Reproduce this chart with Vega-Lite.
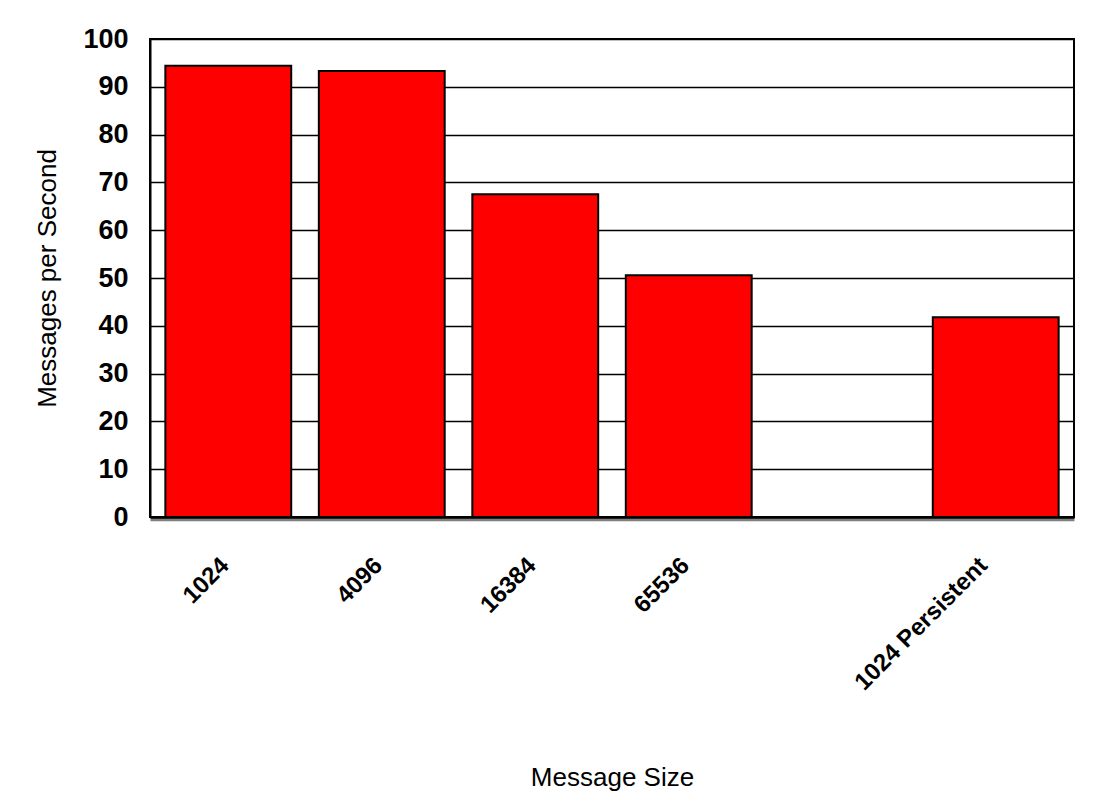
{
  "$schema": "https://vega.github.io/schema/vega-lite/v6.json",
  "autosize": {"type": "none"},
  "padding": {"left": 150, "top": 39, "right": 30, "bottom": 290},
  "width": 924,
  "height": 478,
  "background": "white",
  "data": {
    "values": [
      {"size": "1024", "rate": 94.4},
      {"size": "4096", "rate": 93.3},
      {"size": "16384", "rate": 67.5},
      {"size": "65536", "rate": 50.6},
      {"size": " ", "rate": 0},
      {"size": "1024 Persistent", "rate": 41.8}
    ]
  },
  "mark": {"type": "bar", "fill": "#FF0000", "stroke": "black", "strokeWidth": 2},
  "encoding": {
    "x": {
      "field": "size",
      "type": "nominal",
      "sort": null,
      "scale": {"paddingInner": 0.18, "paddingOuter": 0.1},
      "axis": {
        "title": "Message Size",
        "titleFont": "Liberation Sans",
        "titleFontSize": 26,
        "titleFontWeight": "normal",
        "titleColor": "black",
        "titleBaseline": "alphabetic",
        "titleY": 266,
        "labelAngle": -45,
        "labelAlign": "right",
        "labelBaseline": "middle",
        "labelFont": "Liberation Sans",
        "labelFontSize": 24,
        "labelFontWeight": "bold",
        "labelColor": "black",
        "labelPadding": 42,
        "labelOffset": {"condition": {"test": "datum.value === '1024 Persistent'", "value": -12}, "value": -3},
        "ticks": false,
        "offset": 2.5,
        "domainColor": "#808080",
        "domainWidth": 2.5
      }
    },
    "y": {
      "field": "rate",
      "type": "quantitative",
      "scale": {"domain": [0, 100], "nice": false},
      "axis": {
        "title": "Messages per Second",
        "titleFont": "Liberation Sans",
        "titleFontSize": 26,
        "titleFontWeight": "normal",
        "titleColor": "black",
        "titleBaseline": "alphabetic",
        "titleX": -95,
        "values": [0, 10, 20, 30, 40, 50, 60, 70, 80, 90, 100],
        "labelFont": "Liberation Sans",
        "labelFontSize": 27,
        "labelFontWeight": "bold",
        "labelColor": "black",
        "labelPadding": 22,
        "ticks": false,
        "domainColor": "black",
        "domainWidth": 2,
        "gridColor": "black",
        "gridWidth": {"condition": {"test": "datum.value === 0", "value": 3}, "value": 1.5},
        "gridOpacity": 1
      }
    }
  },
  "config": {
    "view": {"stroke": "black", "strokeWidth": 2}
  }
}
